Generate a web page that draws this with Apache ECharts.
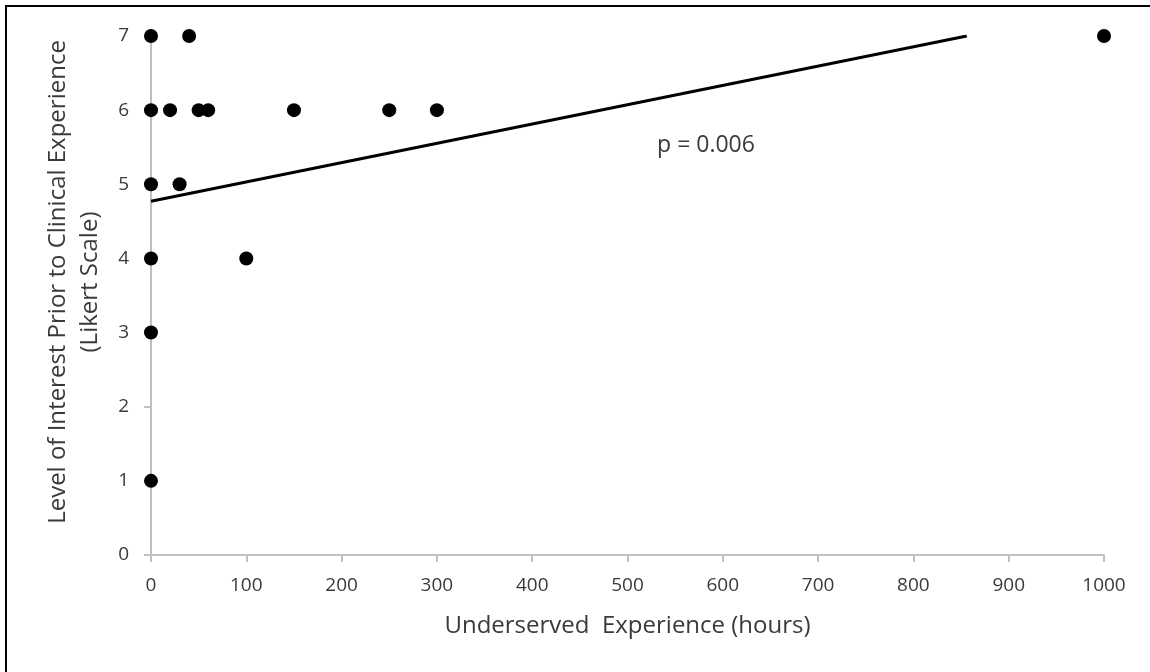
<!DOCTYPE html>
<html>
<head>
<meta charset="utf-8">
<script src="https://cdn.jsdelivr.net/npm/echarts@6/dist/echarts.min.js"></script>
<style>
  html, body { margin: 0; padding: 0; background: #fff; }
  #chart { width: 1150px; height: 672px; }
</style>
</head>
<body>
<div id="chart"></div>
<script>
  // hours of underserved experience vs. interest (Likert)
  var hours = [0, 40, 1000, 0, 20, 50, 60, 150, 250, 300, 0, 30, 0, 100, 0, 0]
  var interest = [7, 7, 7, 6, 6, 6, 6, 6, 6, 6, 5, 5, 4, 4, 3, 1]
  // linear trendline endpoints
  var trendX = [0, 856]
  var trendY = [4.77, 7]
  var pLabel = 'p = 0.006'

  var textColor = '#3a3a3a'
  var axisColor = '#bfbfbf'
  var font = 'Open Sans'

  var chart = echarts.init(document.getElementById('chart'))
  chart.setOption({
    animation: false,
    grid: { left: 151, right: 46, top: 36, bottom: 117 },
    xAxis: {
      type: 'value',
      min: 0,
      max: 1000,
      interval: 100,
      name: 'Underserved  Experience (hours)',
      nameLocation: 'middle',
      nameGap: 59,
      nameTextStyle: { color: textColor, fontFamily: font, fontSize: 24, verticalAlign: 'top' },
      axisLine: { lineStyle: { color: axisColor, width: 2 } },
      axisTick: { show: true, length: 7, lineStyle: { color: axisColor, width: 2 } },
      axisLabel: {
        color: textColor, fontFamily: font, fontSize: 19, margin: 21,
        formatter: function (v) { return String(v) }
      },
      splitLine: { show: false }
    },
    yAxis: {
      type: 'value',
      min: 0,
      max: 7,
      interval: 1,
      name: 'Level of Interest Prior to Clinical Experience\n(Likert Scale)',
      nameLocation: 'middle',
      nameGap: 45,
      nameTextStyle: {
        color: textColor, fontFamily: font, fontSize: 24, lineHeight: 32,
        padding: [0, 0, 0, 27]
      },
      axisLine: { show: true, lineStyle: { color: axisColor, width: 2 } },
      axisTick: { show: true, length: 7, lineStyle: { color: axisColor, width: 2 } },
      axisLabel: { color: textColor, fontFamily: font, fontSize: 19, margin: 22 },
      splitLine: { show: false }
    },
    graphic: [
      {
        type: 'rect',
        shape: { x: 6, y: 6, width: 3000, height: 3000 },
        style: { fill: 'none', stroke: '#000', lineWidth: 2 },
        silent: true
      },
      {
        type: 'text',
        x: 706,
        y: 145,
        style: {
          text: pLabel,
          fill: textColor,
          font: '23px "' + font + '"',
          align: 'center',
          verticalAlign: 'middle'
        }
      }
    ],
    series: [
      {
        type: 'line',
        data: trendX.map(function (x, i) { return [x, trendY[i]] }),
        showSymbol: false,
        symbol: 'none',
        lineStyle: { color: '#000', width: 3 },
        z: 2
      },
      {
        type: 'scatter',
        data: hours.map(function (h, i) { return [h, interest[i]] }),
        symbol: 'circle',
        symbolSize: 14,
        itemStyle: { color: '#000', opacity: 1 },
        z: 3
      }
    ]
  })
</script>
</body>
</html>
